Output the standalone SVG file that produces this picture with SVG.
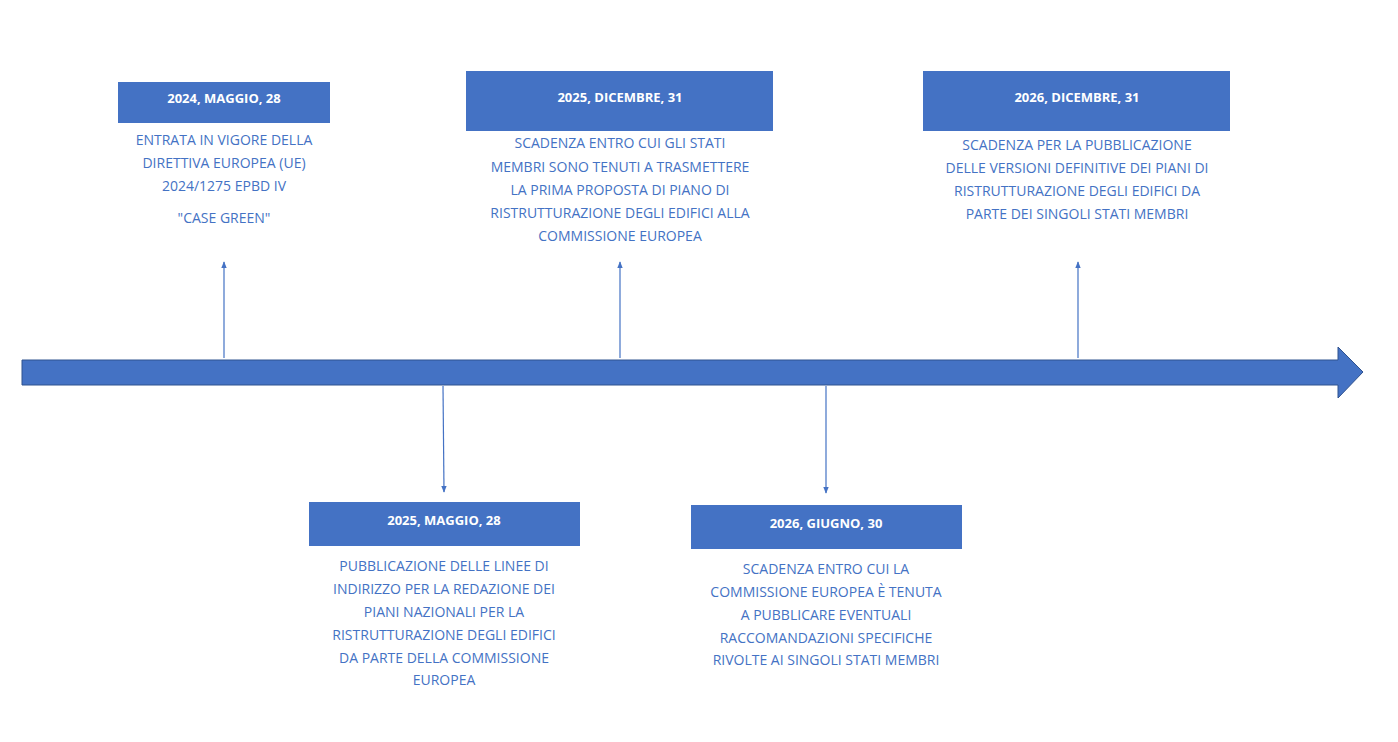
<svg xmlns="http://www.w3.org/2000/svg" width="1398" height="742" viewBox="0 0 1398 742">
<defs>
<style>
.box{fill:#4472C4}
.t{font-family:"Open Sans","Liberation Sans",sans-serif;font-size:13px;font-weight:bold;fill:#fff;text-anchor:middle}
.b{font-family:"Open Sans","Liberation Sans",sans-serif;font-size:14px;fill:#4472C4;text-anchor:middle}
.c{stroke:#4472C4;stroke-width:1.2;fill:none;marker-end:url(#ah)}
</style>
<marker id="ah" viewBox="0 0 10 10" refX="9" refY="5" markerWidth="7" markerHeight="7" orient="auto" markerUnits="userSpaceOnUse"><path d="M0,1 L10,5 L0,9 z" fill="#4472C4"/></marker>
</defs>
<rect width="1398" height="742" fill="#fff"/>
<g id="timeline"><path d="M22,360 H1338 V347 L1363,372 L1338,398 V385 H22 Z" fill="#4472C4" stroke="#2F528F" stroke-width="1"/></g>
<g id="connectors">
<line class="c" x1="224" y1="358" x2="224" y2="262"/>
<line class="c" x1="620" y1="358" x2="620" y2="262"/>
<line class="c" x1="1078" y1="358" x2="1078" y2="262"/>
<line class="c" x1="443" y1="386" x2="444" y2="492"/>
<line class="c" x1="826" y1="386" x2="826" y2="493"/>
</g>
<g id="n1"><rect class="box" x="118" y="82" width="212" height="41"/><text class="t" x="224" y="103">2024, MAGGIO, 28</text>
<text class="b" x="224" y="145">ENTRATA IN VIGORE DELLA</text><text class="b" x="224" y="168">DIRETTIVA EUROPEA (UE)</text><text class="b" x="224" y="191">2024/1275 EPBD IV</text><text class="b" x="224" y="223">"CASE GREEN"</text></g>
<g id="n2"><rect class="box" x="466" y="71" width="307" height="60"/><text class="t" x="620" y="102">2025, DICEMBRE, 31</text>
<text class="b" x="620" y="148">SCADENZA ENTRO CUI GLI STATI</text><text class="b" x="620" y="172">MEMBRI SONO TENUTI A TRASMETTERE</text><text class="b" x="620" y="195">LA PRIMA PROPOSTA DI PIANO DI</text><text class="b" x="620" y="218">RISTRUTTURAZIONE DEGLI EDIFICI ALLA</text><text class="b" x="620" y="241">COMMISSIONE EUROPEA</text></g>
<g id="n3"><rect class="box" x="923" y="71" width="307" height="60"/><text class="t" x="1077" y="102">2026, DICEMBRE, 31</text>
<text class="b" x="1077" y="150">SCADENZA PER LA PUBBLICAZIONE</text><text class="b" x="1077" y="173">DELLE VERSIONI DEFINITIVE DEI PIANI DI</text><text class="b" x="1077" y="196">RISTRUTTURAZIONE DEGLI EDIFICI DA</text><text class="b" x="1077" y="219">PARTE DEI SINGOLI STATI MEMBRI</text></g>
<g id="n4"><rect class="box" x="309" y="502" width="271" height="44"/><text class="t" x="444" y="525">2025, MAGGIO, 28</text>
<text class="b" x="444" y="571">PUBBLICAZIONE DELLE LINEE DI</text><text class="b" x="444" y="594">INDIRIZZO PER LA REDAZIONE DEI</text><text class="b" x="444" y="617">PIANI NAZIONALI PER LA</text><text class="b" x="444" y="640">RISTRUTTURAZIONE DEGLI EDIFICI</text><text class="b" x="444" y="663">DA PARTE DELLA COMMISSIONE</text><text class="b" x="444" y="685">EUROPEA</text></g>
<g id="n5"><rect class="box" x="691" y="505" width="271" height="44"/><text class="t" x="826" y="528">2026, GIUGNO, 30</text>
<text class="b" x="826" y="574">SCADENZA ENTRO CUI LA</text><text class="b" x="826" y="597">COMMISSIONE EUROPEA È TENUTA</text><text class="b" x="826" y="620">A PUBBLICARE EVENTUALI</text><text class="b" x="826" y="643">RACCOMANDAZIONI SPECIFICHE</text><text class="b" x="826" y="665">RIVOLTE AI SINGOLI STATI MEMBRI</text></g>
</svg>
